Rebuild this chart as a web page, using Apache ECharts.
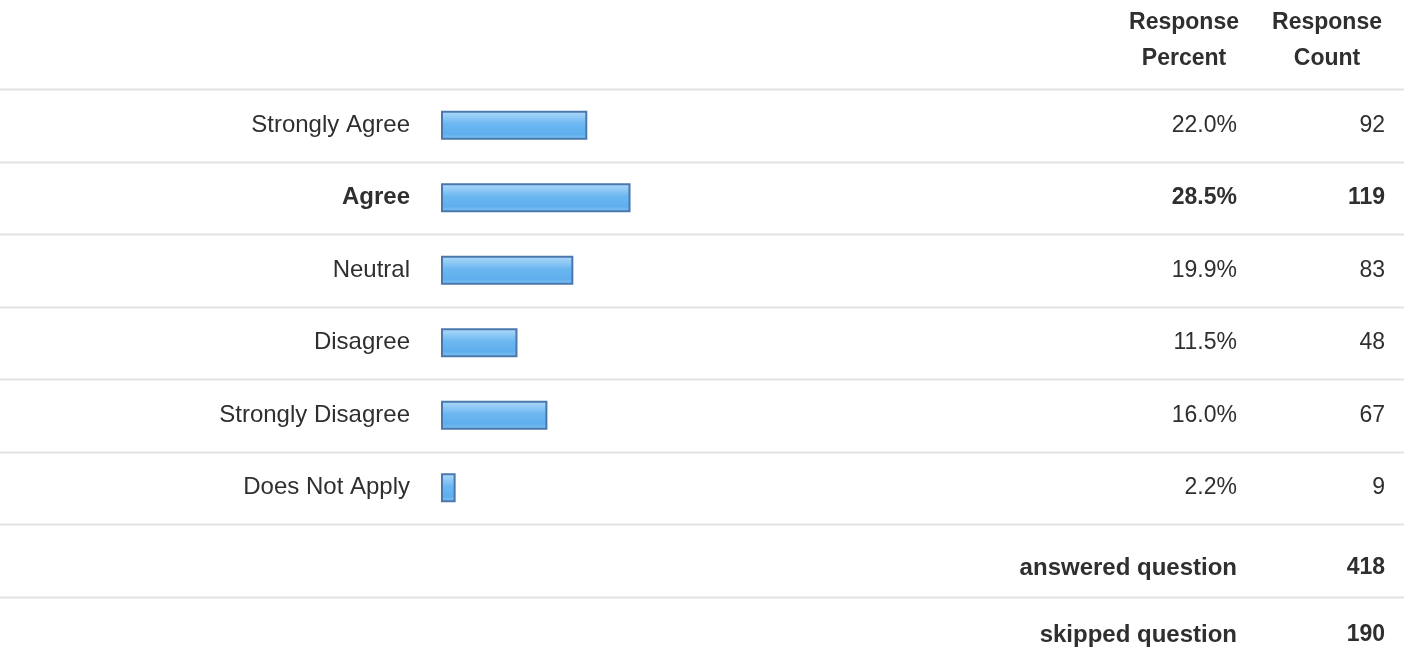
<!DOCTYPE html>
<html>
<head>
<meta charset="utf-8">
<script src="https://cdn.jsdelivr.net/npm/echarts@6/dist/echarts.min.js"></script>
<style>
html,body{margin:0;padding:0;background:#fff;}
#chart{width:1404px;height:659px;}
</style>
</head>
<body>
<div id="chart"></div>
<script>
const categories = ['Strongly Agree', 'Agree', 'Neutral', 'Disagree', 'Strongly Disagree', 'Does Not Apply'];
const percents = [22.0, 28.5, 19.9, 11.5, 16.0, 2.2];
const counts = [92, 119, 83, 48, 67, 9];
const boldCategory = 'Agree';
const headers = [['Response', 'Percent'], ['Response', 'Count']];
const footerLabels = ['answered question', 'skipped question'];
const footerCounts = [418, 190];

const FONT = '"Liberation Sans", Arial, Helvetica, sans-serif';
const TXT = '#2f2f2f';

const chart = echarts.init(document.getElementById('chart'));

const leftCats = categories.map(c => ({
  value: c,
  textStyle: { fontWeight: c === boldCategory ? 'bold' : 'normal' }
}));

const option = {
  animation: false,
  backgroundColor: '#ffffff',
  grid: { left: 441, top: 89, width: 665, height: 435, containLabel: false },
  xAxis: {
    type: 'value', min: 0, max: 100,
    show: false
  },
  yAxis: [{
    type: 'category', inverse: true, data: leftCats,
    axisLine: { show: false }, axisTick: { show: false }, splitLine: { show: false },
    axisLabel: { margin: 31, fontFamily: FONT, fontSize: 24, color: TXT }
  }, {
    type: 'category', inverse: true, position: 'right', data: categories,
    axisLine: { show: false }, axisTick: { show: false }, splitLine: { show: false },
    axisLabel: {
      margin: 0, align: 'left',
      formatter: (v, i) => {
        const b = categories[i] === boldCategory ? 'b' : '';
        return '{p' + b + '|' + percents[i].toFixed(1) + '%}{c' + b + '|' + counts[i] + '}';
      },
      rich: {
        p: { width: 131, align: 'right', fontFamily: FONT, fontSize: 23, color: TXT },
        c: { width: 148, align: 'right', fontFamily: FONT, fontSize: 23, color: TXT },
        pb: { width: 131, align: 'right', fontFamily: FONT, fontSize: 23, fontWeight: 'bold', color: TXT },
        cb: { width: 148, align: 'right', fontFamily: FONT, fontSize: 23, fontWeight: 'bold', color: TXT }
      }
    }
  }],
  series: [{
    type: 'bar',
    data: percents,
    barWidth: 29,
    itemStyle: {
      color: new echarts.graphic.LinearGradient(0, 0, 0, 1, [
        { offset: 0, color: '#b3dbf9' },
        { offset: 0.45, color: '#6cb7f1' },
        { offset: 0.8, color: '#5eaeee' },
        { offset: 1, color: '#86c4f3' }
      ]),
      borderColor: '#4a78ad',
      borderWidth: 2
    }
  }]
};
chart.setOption(option);

// Decorations: separators, headers and footer rows (positions derived from the axis)
function decorate() {
  const y0 = chart.convertToPixel({ yAxisIndex: 0 }, categories[0]);
  const y1 = chart.convertToPixel({ yAxisIndex: 0 }, categories[1]);
  const band = y1 - y0;
  const graphics = [];
  const lineYs = [];
  for (let i = 0; i <= categories.length; i++) lineYs.push(y0 - band / 2 + i * band);
  lineYs.push(lineYs[lineYs.length - 1] + band);
  lineYs.forEach((y, k) => {
    graphics.push({
      type: 'line', id: 'sep' + k,
      shape: { x1: 0, y1: Math.round(y) + 0.5, x2: 1404, y2: Math.round(y) + 0.5 },
      style: { stroke: '#e2e2e2', lineWidth: 2 }, silent: true
    });
  });
  const pctRight = 1237, cntRight = 1385;
  const headerCenters = [1184, 1327];
  headers.forEach((h, i) => {
    h.forEach((t, j) => {
      graphics.push({
        type: 'text', id: 'h' + i + '_' + j,
        x: headerCenters[i], y: 23 + j * 36,
        style: { text: t, fontFamily: FONT, fontSize: 23, fontWeight: 'bold', fill: TXT, align: 'center', verticalAlign: 'middle' }
      });
    });
  });
  const lastSep = lineYs[categories.length];
  footerLabels.forEach((t, i) => {
    const y = lastSep + 44 + i * 67;
    graphics.push({
      type: 'text', id: 'fl' + i, x: pctRight, y: y,
      style: { text: t, fontFamily: FONT, fontSize: 24, fontWeight: 'bold', fill: TXT, align: 'right', verticalAlign: 'middle' }
    });
    graphics.push({
      type: 'text', id: 'fc' + i, x: cntRight, y: y,
      style: { text: String(footerCounts[i]), fontFamily: FONT, fontSize: 23, fontWeight: 'bold', fill: TXT, align: 'right', verticalAlign: 'middle' }
    });
  });
  chart.setOption({ graphic: graphics });
}
decorate();
</script>
</body>
</html>
